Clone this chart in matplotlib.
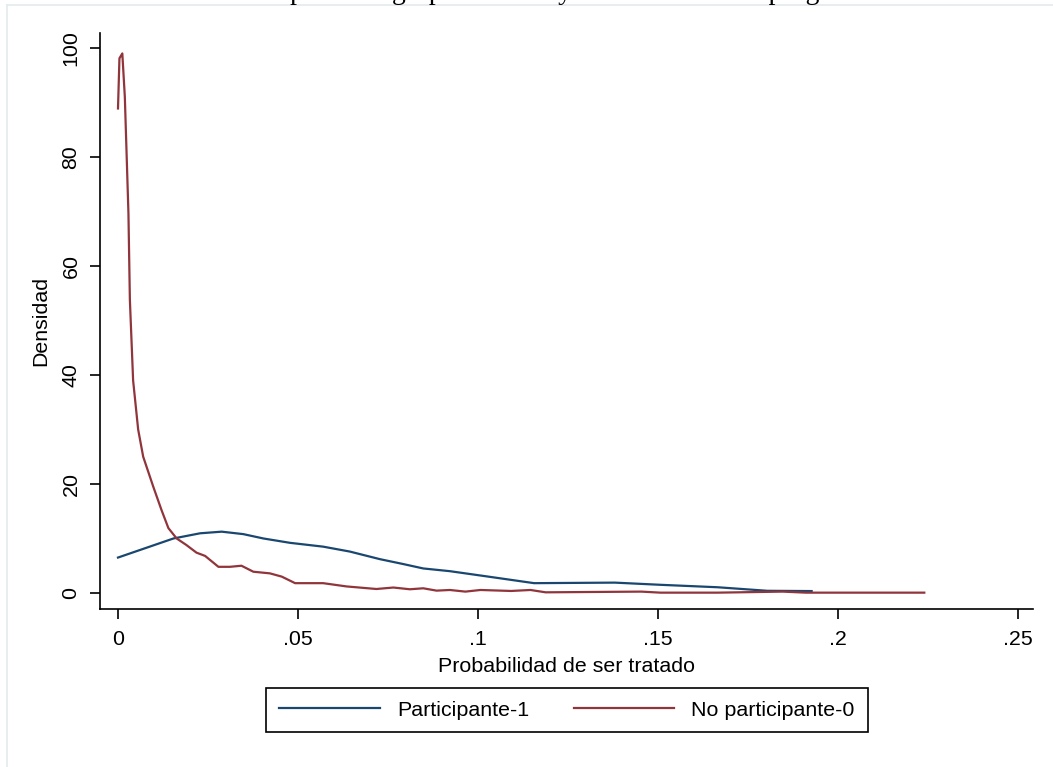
import matplotlib
matplotlib.use("Agg")
import matplotlib.pyplot as plt
from matplotlib.lines import Line2D

# Kernel density of the propensity score, participants
part_x = [0.0000, 0.0154, 0.0228, 0.0288, 0.0348, 0.0404, 0.0478, 0.0570, 0.0644,
          0.0728, 0.0793, 0.0848, 0.0922, 0.1029, 0.1156, 0.1380, 0.1507, 0.1666,
          0.1804, 0.1927]
part_y = [6.5, 10.0, 10.95, 11.25, 10.8, 10.0, 9.2, 8.5, 7.6,
          6.2, 5.3, 4.5, 4.0, 3.0, 1.8, 1.9, 1.5, 1.05,
          0.4, 0.35]

# Kernel density of the propensity score, non-participants
nopart_x = [0.0000, 0.0004, 0.0012, 0.0019, 0.0029, 0.0033, 0.0042, 0.0056, 0.0070,
            0.0098, 0.0121, 0.0140, 0.0163, 0.0190, 0.0218, 0.0242, 0.0279, 0.0311,
            0.0343, 0.0376, 0.0422, 0.0455, 0.0492, 0.0570, 0.0635, 0.0718, 0.0765,
            0.0811, 0.0848, 0.0885, 0.0922, 0.0965, 0.1007, 0.1092, 0.1146, 0.1188,
            0.1454, 0.1507, 0.1666, 0.1847, 0.1911, 0.2240]
nopart_y = [88.9, 98.1, 99.0, 91.0, 69.7, 53.8, 39.0, 30.0, 25.0,
            19.5, 15.2, 11.9, 10.0, 8.8, 7.4, 6.8, 4.8, 4.8,
            5.0, 3.9, 3.6, 3.0, 1.8, 1.8, 1.2, 0.73, 1.0,
            0.68, 0.86, 0.43, 0.55, 0.25, 0.55, 0.37, 0.55, 0.12,
            0.25, 0.06, 0.06, 0.25, 0.06, 0.06]

x_ticks = [0, 0.05, 0.1, 0.15, 0.2, 0.25]
x_tick_labels = ["0", ".05", ".1", ".15", ".2", ".25"]
y_ticks = [0, 20, 40, 60, 80, 100]
y_tick_labels = ["0", "20", "40", "60", "80", "100"]

series_labels = ["Participante-1", "No participante-0"]
title_text = "Densidad por cada grupo tratados y no tratados en el programa"

BLUE = "#1a476f"
RED = "#90353b"
FS = 15.4

plt.rcParams["font.family"] = ["Liberation Sans", "DejaVu Sans"]

W, H = 1053, 767
fig = plt.figure(figsize=(W / 100, H / 100), dpi=100)
fig.patch.set_facecolor("white")

ax = fig.add_axes([100 / W, 1 - 609 / H, (1033 - 100) / W, (609 - 33) / H])
ax.plot(part_x, part_y, color=BLUE, lw=1.6, label=series_labels[0],
        solid_joinstyle="round")
ax.plot(nopart_x, nopart_y, color=RED, lw=1.6, label=series_labels[1],
        solid_joinstyle="round")

ax.set_xlim(-0.005, 0.2542)
ax.set_ylim(-2.94, 102.75)
ax.set_xticks(x_ticks)
ax.set_xticklabels(x_tick_labels)
ax.set_yticks(y_ticks)
ax.set_yticklabels(y_tick_labels, rotation=90, va="center")

for side in ("top", "right"):
    ax.spines[side].set_visible(False)
for side in ("left", "bottom"):
    ax.spines[side].set_linewidth(1.2)
    ax.spines[side].set_color("black")
ax.tick_params(axis="both", direction="out", length=7, width=1.2,
               labelsize=FS, colors="black")
ax.tick_params(axis="x", pad=8)
ax.tick_params(axis="y", pad=7)

ax.set_xlabel("Probabilidad de ser tratado", fontsize=FS, labelpad=6)
ax.set_ylabel("Densidad", fontsize=FS, labelpad=8)

leg = fig.legend(loc="center", bbox_to_anchor=(567 / W, 1 - 710 / H), ncol=2,
                 fontsize=FS, handlelength=4.7, handletextpad=0.8,
                 columnspacing=2.1, borderpad=0.6, fancybox=False,
                 framealpha=1, edgecolor="black")
leg.get_frame().set_linewidth(1.2)

# Title sits above the top edge of the canvas
fig.text(527 / W, 1 + 1 / H, title_text, ha="center", va="baseline",
         fontsize=20, family=["Liberation Serif", "DejaVu Serif"])

# Faint outer frame of the graph region
frame_col = "#e4eaee"
fig.add_artist(Line2D([7 / W, 7 / W], [1 - 5 / H, 0], color=frame_col, lw=1.2,
                      transform=fig.transFigure))
fig.add_artist(Line2D([7 / W, 1], [1 - 5 / H, 1 - 5 / H], color=frame_col, lw=1.2,
                      transform=fig.transFigure))

fig.savefig("out.png", dpi=100)
